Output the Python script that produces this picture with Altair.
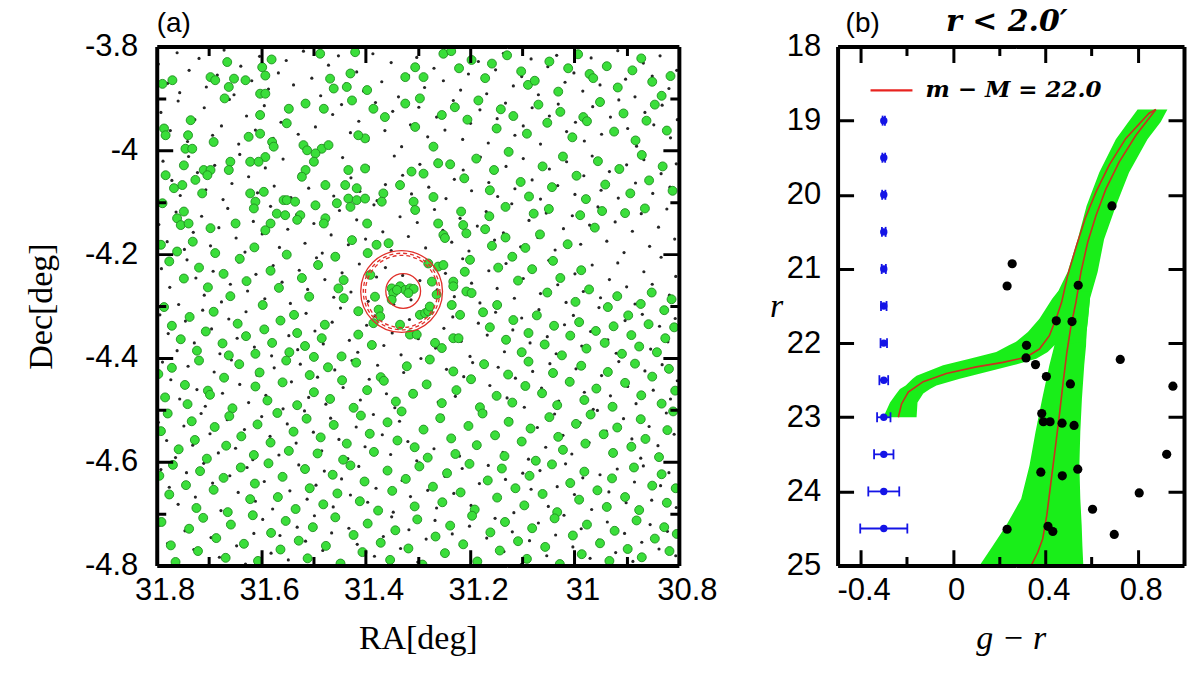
import altair as alt
import pandas as pd

# ======================= Panel (a): sky positions (RA, Dec in deg) =======================
green_north_west = [
    (31.789, -3.872), (31.770, -3.865), (31.786, -3.958), (31.783, -3.971), (31.735, -3.942),
    (31.740, -3.971), (31.745, -3.997), (31.732, -3.997), (31.691, -3.984), (31.697, -3.859),
    (31.688, -3.865), (31.665, -3.830), (31.662, -3.878), (31.652, -3.862), (31.630, -3.865),
    (31.670, -3.900), (31.598, -3.840), (31.580, -3.825), (31.592, -3.856), (31.602, -3.891),
    (31.592, -3.891), (31.602, -3.932), (31.624, -3.974), (31.602, -3.968), (31.579, -3.984),
    (31.576, -3.993), (31.592, -4.013), (31.621, -4.022), (31.605, -4.022), (31.547, -3.920),
    (31.551, -3.948), (31.515, -3.910), (31.480, -3.920), (31.487, -3.814), (31.468, -3.862),
    (31.461, -3.881), (31.436, -3.878), (31.429, -3.852), (31.426, -3.904), (31.420, -3.811),
    (31.397, -3.884), (31.385, -3.920), (31.363, -3.936), (31.324, -3.910), (31.305, -3.840),
    (31.289, -3.859), (31.324, -3.859), (31.305, -3.955), (31.296, -3.900), (31.254, -3.932),
    (31.251, -3.814), (31.270, -3.993), (31.261, -4.025), (31.289, -4.045), (31.312, -4.041),
    (31.334, -4.067), (31.366, -4.083), (31.401, -4.035), (31.401, -3.977), (31.414, -3.971),
    (31.433, -4.038), (31.417, -4.073), (31.433, -4.093), (31.439, -4.067), (31.477, -4.067),
    (31.484, -3.997), (31.471, -3.990), (31.496, -4.006), (31.499, -4.022), (31.515, -4.038),
    (31.522, -4.051), (31.519, -3.990), (31.512, -4.000), (31.557, -4.096), (31.551, -4.096),
    (31.535, -4.099), (31.570, -4.122), (31.554, -4.125), (31.525, -4.125), (31.531, -4.134),
    (31.496, -4.106), (31.477, -4.131), (31.480, -4.141), (31.455, -4.102), (31.429, -4.109),
    (31.417, -4.096), (31.401, -4.093), (31.397, -4.141), (31.369, -4.099), (31.308, -4.099),
    (31.305, -4.115), (31.270, -4.090), (31.261, -4.141), (31.251, -4.163), (31.783, -4.048),
    (31.748, -4.029), (31.767, -4.073), (31.751, -4.067), (31.726, -4.057), (31.710, -4.038),
    (31.697, -4.038), (31.713, -4.083), (31.703, -4.048), (31.659, -4.022), (31.662, -4.038),
    (31.621, -4.083), (31.611, -4.099), (31.614, -4.112), (31.595, -4.080), (31.582, -4.141),
    (31.649, -4.141), (31.697, -4.150), (31.748, -4.118), (31.761, -4.131), (31.754, -4.144),
    (31.739, -4.141), (31.789, -4.102), (31.592, -4.154),
]
green_centre = [
    (31.426, -4.173), (31.379, -4.182), (31.356, -4.179), (31.396, -4.198), (31.458, -4.205),
    (31.248, -4.169), (31.213, -4.144), (31.207, -4.160), (31.200, -4.211), (31.210, -4.234),
    (31.261, -4.224), (31.251, -4.221), (31.280, -4.218), (31.391, -4.240), (31.442, -4.250),
    (31.452, -4.266), (31.442, -4.285), (31.382, -4.282), (31.350, -4.266), (31.347, -4.275),
    (31.334, -4.262), (31.324, -4.269), (31.315, -4.266), (31.308, -4.267), (31.350, -4.288),
    (31.340, -4.269), (31.318, -4.275), (31.375, -4.307), (31.372, -4.320), (31.385, -4.333),
    (31.414, -4.310), (31.414, -4.355), (31.334, -4.336), (31.315, -4.355), (31.302, -4.355),
    (31.296, -4.317), (31.286, -4.314), (31.280, -4.310), (31.273, -4.253), (31.264, -4.278),
    (31.277, -4.301), (31.232, -4.253), (31.232, -4.262), (31.235, -4.298), (31.207, -4.272),
    (31.197, -4.275), (31.219, -4.317), (31.232, -4.362), (31.222, -4.362), (31.254, -4.381),
    (31.267, -4.371), (31.446, -4.397), (31.388, -4.375),
]
green_north_east = [
    (31.236, -3.809), (31.221, -3.842), (31.197, -3.826), (31.171, -3.861), (31.158, -3.833),
    (31.129, -3.817), (31.102, -3.848), (31.089, -3.874), (31.076, -3.866), (31.048, -3.829),
    (31.031, -3.887), (31.012, -3.842), (30.993, -3.815), (30.971, -3.853), (30.964, -3.861),
    (30.938, -3.838), (30.917, -3.879), (30.889, -3.846), (30.872, -3.823), (30.851, -3.868),
    (30.833, -3.895), (30.816, -3.857), (31.229, -3.917), (31.205, -3.941), (31.184, -3.904),
    (31.149, -3.958), (31.141, -3.921), (31.117, -3.934), (31.091, -3.968), (31.069, -3.912),
    (31.052, -3.947), (31.027, -3.926), (31.004, -3.975), (30.983, -3.936), (30.976, -3.944),
    (30.951, -3.907), (30.924, -3.964), (30.906, -3.929), (30.883, -3.981), (30.862, -3.943),
    (30.846, -3.912), (30.823, -3.962), (31.238, -4.027), (31.211, -4.054), (31.188, -4.016),
    (31.162, -4.077), (31.154, -4.038), (31.126, -4.003), (31.103, -4.061), (31.087, -4.089),
    (31.061, -4.031), (31.043, -4.071), (31.022, -4.012), (30.996, -4.049), (30.978, -4.094),
    (30.955, -4.021), (30.941, -4.066), (30.914, -4.036), (30.893, -4.083), (30.871, -4.009),
    (30.857, -4.058), (30.831, -4.031), (30.812, -4.078), (31.217, -4.118), (31.163, -4.127),
    (31.132, -4.109), (31.078, -4.122), (31.049, -4.113), (30.989, -4.125), (30.947, -4.117),
    (30.903, -4.121), (30.865, -4.112),
]
green_east = [
    (31.171, -4.152), (31.158, -4.184), (31.146, -4.226), (31.132, -4.168), (31.119, -4.205),
    (31.108, -4.251), (31.094, -4.188), (31.081, -4.229), (31.066, -4.162), (31.052, -4.274),
    (31.041, -4.213), (31.027, -4.246), (31.013, -4.181), (30.998, -4.292), (30.987, -4.231),
    (30.972, -4.268), (30.961, -4.149), (30.936, -4.302), (30.918, -4.281), (30.897, -4.318),
    (30.873, -4.296), (30.852, -4.274), (30.828, -4.308), (30.814, -4.287), (31.175, -4.312),
    (31.162, -4.341), (31.148, -4.298), (31.131, -4.365), (31.117, -4.327), (31.101, -4.389),
    (31.088, -4.352), (31.072, -4.318), (31.057, -4.374), (31.039, -4.338), (31.024, -4.395),
    (31.008, -4.357), (30.991, -4.331), (30.977, -4.382), (30.959, -4.348), (30.942, -4.371),
    (30.925, -4.339), (30.909, -4.392), (30.891, -4.356), (30.876, -4.378), (30.858, -4.335),
    (30.842, -4.389), (30.826, -4.362), (30.809, -4.341),
]
green_west = [
    (31.792, -4.182), (31.776, -4.214), (31.761, -4.195), (31.748, -4.247), (31.731, -4.176),
    (31.719, -4.226), (31.702, -4.264), (31.688, -4.198), (31.672, -4.238), (31.659, -4.281),
    (31.641, -4.209), (31.628, -4.252), (31.613, -4.187), (31.597, -4.298), (31.582, -4.232),
    (31.566, -4.265), (31.551, -4.201), (31.537, -4.317), (31.522, -4.246), (31.508, -4.282),
    (31.491, -4.221), (31.478, -4.336), (31.786, -4.302), (31.771, -4.338), (31.754, -4.364),
    (31.737, -4.321), (31.723, -4.386), (31.706, -4.349), (31.691, -4.311), (31.674, -4.372),
    (31.662, -4.395), (31.645, -4.334), (31.629, -4.358), (31.611, -4.392), (31.594, -4.345),
    (31.579, -4.371), (31.563, -4.328), (31.546, -4.389), (31.531, -4.352), (31.516, -4.377),
    (31.499, -4.398), (31.484, -4.362),
]
green_south = [
    (31.797, -4.431), (31.784, -4.476), (31.771, -4.419), (31.746, -4.452), (31.741, -4.489),
    (31.719, -4.405), (31.702, -4.463), (31.698, -4.471), (31.671, -4.438), (31.655, -4.497),
    (31.642, -4.412), (31.611, -4.455), (31.603, -4.428), (31.588, -4.482), (31.559, -4.447),
    (31.552, -4.405), (31.531, -4.491), (31.507, -4.433), (31.499, -4.466), (31.472, -4.418),
    (31.468, -4.479), (31.445, -4.443), (31.423, -4.496), (31.418, -4.409), (31.397, -4.462),
    (31.371, -4.437), (31.365, -4.444), (31.342, -4.484), (31.321, -4.416), (31.309, -4.469),
    (31.283, -4.451), (31.277, -4.403), (31.254, -4.487), (31.232, -4.426), (31.226, -4.462),
    (31.198, -4.441), (31.181, -4.495), (31.173, -4.412), (31.149, -4.473), (31.127, -4.432),
    (31.119, -4.486), (31.094, -4.454), (31.088, -4.407), (31.062, -4.468), (31.041, -4.429),
    (31.033, -4.491), (31.009, -4.446), (30.987, -4.415), (30.981, -4.481), (30.958, -4.459),
    (30.936, -4.427), (30.927, -4.494), (30.903, -4.448), (30.884, -4.411), (30.872, -4.472),
    (30.851, -4.436), (30.833, -4.488), (30.819, -4.421), (30.807, -4.463),
    (31.792, -4.541), (31.779, -4.507), (31.758, -4.576), (31.733, -4.522), (31.727, -4.558),
    (31.704, -4.594), (31.689, -4.533), (31.667, -4.569), (31.661, -4.512), (31.638, -4.551),
    (31.614, -4.587), (31.607, -4.528), (31.582, -4.563), (31.569, -4.506), (31.547, -4.579),
    (31.538, -4.542), (31.513, -4.517), (31.492, -4.584), (31.486, -4.553), (31.461, -4.529),
    (31.443, -4.596), (31.436, -4.565), (31.409, -4.511), (31.392, -4.546), (31.384, -4.581),
    (31.358, -4.524), (31.339, -4.559), (31.331, -4.503), (31.306, -4.572), (31.289, -4.538),
    (31.281, -4.592), (31.257, -4.516), (31.236, -4.555), (31.228, -4.585), (31.203, -4.531),
    (31.187, -4.568), (31.176, -4.507), (31.152, -4.549), (31.134, -4.589), (31.126, -4.523),
    (31.101, -4.561), (31.084, -4.536), (31.074, -4.598), (31.048, -4.514), (31.031, -4.552),
    (31.022, -4.577), (30.997, -4.527), (30.979, -4.565), (30.969, -4.509), (30.944, -4.547),
    (30.926, -4.583), (30.918, -4.534), (30.891, -4.571), (30.873, -4.518), (30.864, -4.556),
    (30.838, -4.591), (30.822, -4.539), (30.811, -4.503),
    (31.795, -4.627), (31.776, -4.663), (31.769, -4.606), (31.744, -4.645), (31.724, -4.689),
    (31.717, -4.618), (31.691, -4.654), (31.672, -4.631), (31.664, -4.697), (31.639, -4.611),
    (31.621, -4.672), (31.612, -4.642), (31.586, -4.603), (31.568, -4.668), (31.559, -4.629),
    (31.534, -4.691), (31.516, -4.614), (31.507, -4.651), (31.481, -4.682), (31.463, -4.625),
    (31.454, -4.661), (31.429, -4.607), (31.411, -4.676), (31.402, -4.638), (31.376, -4.694),
    (31.358, -4.617), (31.349, -4.656), (31.323, -4.633), (31.306, -4.686), (31.297, -4.609),
    (31.271, -4.648), (31.253, -4.678), (31.244, -4.622), (31.218, -4.659), (31.201, -4.604),
    (31.191, -4.692), (31.166, -4.636), (31.148, -4.669), (31.139, -4.613), (31.113, -4.651),
    (31.096, -4.684), (31.086, -4.627), (31.061, -4.662), (31.043, -4.605), (31.033, -4.697),
    (31.008, -4.641), (30.991, -4.673), (30.981, -4.619), (30.956, -4.655), (30.938, -4.687),
    (30.928, -4.632), (30.903, -4.668), (30.886, -4.611), (30.876, -4.693), (30.851, -4.646),
    (30.833, -4.624), (30.823, -4.679), (30.806, -4.651),
    (31.791, -4.716), (31.773, -4.761), (31.764, -4.793), (31.738, -4.729), (31.721, -4.772),
    (31.711, -4.708), (31.686, -4.747), (31.668, -4.785), (31.658, -4.721), (31.633, -4.758),
    (31.616, -4.703), (31.606, -4.791), (31.581, -4.737), (31.563, -4.769), (31.553, -4.714),
    (31.528, -4.752), (31.511, -4.786), (31.501, -4.726), (31.476, -4.762), (31.458, -4.707),
    (31.448, -4.796), (31.423, -4.741), (31.406, -4.774), (31.396, -4.719), (31.371, -4.756),
    (31.353, -4.789), (31.343, -4.732), (31.318, -4.767), (31.301, -4.711), (31.291, -4.798),
    (31.266, -4.744), (31.248, -4.776), (31.238, -4.723), (31.213, -4.759), (31.196, -4.704),
    (31.186, -4.792), (31.161, -4.736), (31.143, -4.771), (31.133, -4.716), (31.108, -4.753),
    (31.091, -4.787), (31.081, -4.728), (31.056, -4.764), (31.038, -4.709), (31.028, -4.797),
    (31.003, -4.742), (30.986, -4.778), (30.976, -4.721), (30.951, -4.757), (30.933, -4.791),
    (30.923, -4.733), (30.898, -4.768), (30.881, -4.713), (30.871, -4.784), (30.846, -4.748),
    (30.828, -4.726), (30.818, -4.772), (30.804, -4.739),
]

black_band_1 = [
    (31.797, -3.834), (31.779, -3.871), (31.761, -3.812), (31.756, -3.889), (31.738, -3.846),
    (31.719, -3.823), (31.705, -3.878), (31.684, -3.855), (31.671, -3.807), (31.652, -3.893),
    (31.639, -3.838), (31.618, -3.866), (31.603, -3.819), (31.586, -3.882), (31.567, -3.851),
    (31.552, -3.827), (31.538, -3.874), (31.519, -3.809), (31.503, -3.861), (31.486, -3.895),
    (31.471, -3.836), (31.452, -3.818), (31.438, -3.872), (31.417, -3.849), (31.404, -3.886),
    (31.386, -3.814), (31.369, -3.868), (31.351, -3.831), (31.337, -3.897), (31.318, -3.856),
    (31.302, -3.821), (31.287, -3.879), (31.269, -3.842), (31.251, -3.866), (31.236, -3.811),
    (31.218, -3.884), (31.203, -3.853), (31.184, -3.829), (31.168, -3.891), (31.151, -3.845),
    (31.136, -3.813), (31.117, -3.876), (31.101, -3.858), (31.083, -3.824), (31.069, -3.893),
    (31.051, -3.839), (31.034, -3.817), (31.018, -3.869), (31.001, -3.851), (30.984, -3.886),
    (30.968, -3.822), (30.951, -3.874), (30.933, -3.841), (30.917, -3.808), (30.902, -3.863),
    (30.884, -3.897), (30.868, -3.832), (30.851, -3.857), (30.836, -3.818), (30.819, -3.881),
    (30.804, -3.846),
]
black_band_2 = [
    (31.792, -3.927), (31.774, -3.962), (31.759, -3.905), (31.741, -3.983), (31.727, -3.941),
    (31.709, -3.918), (31.693, -3.971), (31.676, -3.953), (31.661, -3.902), (31.643, -3.988),
    (31.628, -3.934), (31.611, -3.961), (31.594, -3.914), (31.577, -3.977), (31.562, -3.946),
    (31.544, -3.923), (31.529, -3.969), (31.512, -3.906), (31.496, -3.955), (31.478, -3.991),
    (31.463, -3.931), (31.446, -3.912), (31.429, -3.966), (31.413, -3.944), (31.396, -3.981),
    (31.381, -3.908), (31.363, -3.962), (31.348, -3.925), (31.331, -3.993), (31.314, -3.951),
    (31.298, -3.917), (31.281, -3.974), (31.264, -3.936), (31.248, -3.961), (31.232, -3.904),
    (31.214, -3.979), (31.199, -3.948), (31.181, -3.922), (31.165, -3.986), (31.148, -3.939),
    (31.132, -3.909), (31.114, -3.971), (31.098, -3.953), (31.081, -3.918), (31.065, -3.988),
    (31.048, -3.934), (31.031, -3.911), (31.015, -3.964), (30.998, -3.946), (30.981, -3.982),
    (30.965, -3.916), (30.948, -3.969), (30.931, -3.936), (30.915, -3.903), (30.898, -3.958),
    (30.881, -3.992), (30.865, -3.927), (30.848, -3.951), (30.832, -3.913), (30.816, -3.976),
    (30.803, -3.941),
]
black_band_3 = [
    (31.788, -4.021), (31.771, -4.058), (31.755, -4.087), (31.739, -4.012), (31.722, -4.043),
    (31.706, -4.076), (31.689, -4.029), (31.673, -4.095), (31.656, -4.064), (31.641, -4.008),
    (31.624, -4.051), (31.607, -4.082), (31.592, -4.034), (31.575, -4.069), (31.558, -4.017),
    (31.543, -4.091), (31.526, -4.046), (31.509, -4.073), (31.494, -4.024), (31.477, -4.061),
    (31.461, -4.088), (31.444, -4.014), (31.428, -4.053), (31.411, -4.079), (31.395, -4.032),
    (31.378, -4.097), (31.362, -4.066), (31.345, -4.011), (31.329, -4.048), (31.312, -4.084),
    (31.296, -4.027), (31.279, -4.071), (31.263, -4.019), (31.246, -4.093), (31.230, -4.056),
    (31.213, -4.038), (31.197, -4.078), (31.180, -4.013), (31.164, -4.062), (31.147, -4.089),
    (31.131, -4.031), (31.114, -4.074), (31.098, -4.016), (31.081, -4.057), (31.065, -4.094),
    (31.048, -4.036), (31.032, -4.068), (31.015, -4.022), (30.999, -4.085), (30.982, -4.049),
    (30.966, -4.011), (30.949, -4.077), (30.933, -4.041), (30.916, -4.092), (30.900, -4.028),
    (30.883, -4.063), (30.867, -4.018), (30.850, -4.083), (30.834, -4.045), (30.817, -4.071),
    (30.805, -4.026),
]
black_band_4 = [
    (31.796, -4.143), (31.780, -4.176), (31.763, -4.119), (31.747, -4.191), (31.730, -4.158),
    (31.714, -4.127), (31.697, -4.184), (31.681, -4.149), (31.664, -4.112), (31.648, -4.169),
    (31.631, -4.196), (31.615, -4.137), (31.598, -4.161), (31.582, -4.108), (31.565, -4.187),
    (31.549, -4.152), (31.532, -4.124), (31.516, -4.179), (31.499, -4.141), (31.483, -4.198),
    (31.466, -4.163), (31.450, -4.116), (31.433, -4.182), (31.417, -4.134), (31.400, -4.171),
    (31.384, -4.105), (31.367, -4.157), (31.351, -4.193), (31.334, -4.128), (31.318, -4.166),
    (31.301, -4.139), (31.285, -4.188), (31.268, -4.114), (31.252, -4.154), (31.235, -4.177),
    (31.219, -4.131), (31.202, -4.194), (31.186, -4.146), (31.169, -4.118), (31.153, -4.173),
    (31.136, -4.159), (31.120, -4.103), (31.103, -4.186), (31.087, -4.135), (31.070, -4.168),
    (31.054, -4.121), (31.037, -4.192), (31.021, -4.151), (31.004, -4.126), (30.988, -4.181),
    (30.971, -4.144), (30.955, -4.109), (30.938, -4.175), (30.922, -4.138), (30.905, -4.197),
    (30.889, -4.156), (30.872, -4.122), (30.856, -4.185), (30.839, -4.148), (30.823, -4.113),
    (30.808, -4.171),
]
black_band_5 = [
    (31.791, -4.228), (31.775, -4.264), (31.758, -4.297), (31.742, -4.211), (31.725, -4.246),
    (31.709, -4.279), (31.692, -4.233), (31.676, -4.292), (31.659, -4.258), (31.643, -4.215),
    (31.626, -4.271), (31.610, -4.239), (31.593, -4.286), (31.577, -4.222), (31.560, -4.254),
    (31.544, -4.295), (31.527, -4.231), (31.511, -4.268), (31.494, -4.207), (31.478, -4.249),
    (31.461, -4.283), (31.445, -4.236), (31.428, -4.273), (31.412, -4.219), (31.395, -4.291),
    (31.379, -4.244), (31.362, -4.226), (31.346, -4.297), (31.329, -4.241), (31.313, -4.288),
    (31.296, -4.251), (31.280, -4.213), (31.263, -4.269), (31.247, -4.237), (31.230, -4.282),
    (31.214, -4.209), (31.197, -4.256), (31.181, -4.294), (31.164, -4.232), (31.148, -4.266),
    (31.131, -4.218), (31.115, -4.285), (31.098, -4.247), (31.082, -4.229), (31.065, -4.276),
    (31.049, -4.212), (31.032, -4.259), (31.016, -4.293), (30.999, -4.238), (30.983, -4.272),
    (30.966, -4.221), (30.950, -4.284), (30.933, -4.249), (30.917, -4.217), (30.900, -4.263),
    (30.884, -4.296), (30.867, -4.234), (30.851, -4.258), (30.834, -4.206), (30.818, -4.279),
    (30.806, -4.243),
]
black_band_6 = [
    (31.794, -4.317), (31.778, -4.353), (31.761, -4.386), (31.745, -4.329), (31.728, -4.371),
    (31.712, -4.308), (31.695, -4.344), (31.679, -4.392), (31.662, -4.325), (31.646, -4.362),
    (31.629, -4.311), (31.613, -4.379), (31.596, -4.341), (31.580, -4.396), (31.563, -4.322),
    (31.547, -4.357), (31.530, -4.384), (31.514, -4.314), (31.497, -4.348), (31.481, -4.373),
    (31.464, -4.331), (31.448, -4.304), (31.431, -4.366), (31.415, -4.389), (31.398, -4.337),
    (31.382, -4.319), (31.365, -4.376), (31.349, -4.352), (31.332, -4.394), (31.316, -4.326),
    (31.299, -4.363), (31.283, -4.309), (31.266, -4.381), (31.250, -4.343), (31.233, -4.321),
    (31.217, -4.368), (31.200, -4.397), (31.184, -4.333), (31.167, -4.356), (31.151, -4.312),
    (31.134, -4.388), (31.118, -4.346), (31.101, -4.323), (31.085, -4.371), (31.068, -4.307),
    (31.052, -4.359), (31.035, -4.392), (31.019, -4.336), (31.002, -4.318), (30.986, -4.377),
    (30.969, -4.349), (30.953, -4.303), (30.936, -4.365), (30.920, -4.391), (30.903, -4.328),
    (30.887, -4.354), (30.870, -4.316), (30.854, -4.383), (30.837, -4.339), (30.821, -4.369),
    (30.807, -4.324),
]
black_band_7 = [
    (31.789, -4.408), (31.773, -4.442), (31.756, -4.479), (31.740, -4.416), (31.723, -4.461),
    (31.707, -4.493), (31.690, -4.427), (31.674, -4.468), (31.657, -4.404), (31.641, -4.451),
    (31.624, -4.486), (31.608, -4.433), (31.591, -4.472), (31.575, -4.419), (31.558, -4.498),
    (31.542, -4.446), (31.525, -4.412), (31.509, -4.476), (31.492, -4.437), (31.476, -4.489),
    (31.459, -4.423), (31.443, -4.457), (31.426, -4.405), (31.410, -4.481), (31.393, -4.441),
    (31.377, -4.414), (31.360, -4.469), (31.344, -4.496), (31.327, -4.428), (31.311, -4.463),
    (31.294, -4.401), (31.278, -4.448), (31.261, -4.485), (31.245, -4.422), (31.228, -4.474),
    (31.212, -4.436), (31.195, -4.409), (31.179, -4.491), (31.162, -4.453), (31.146, -4.418),
    (31.129, -4.477), (31.113, -4.439), (31.096, -4.495), (31.080, -4.426), (31.063, -4.458),
    (31.047, -4.411), (31.030, -4.483), (31.014, -4.447), (30.997, -4.421), (30.981, -4.466),
    (30.964, -4.499), (30.948, -4.434), (30.931, -4.473), (30.915, -4.407), (30.898, -4.455),
    (30.882, -4.488), (30.865, -4.425), (30.849, -4.462), (30.832, -4.413), (30.816, -4.479),
    (30.803, -4.444),
]
black_band_8 = [
    (31.797, -4.524), (31.781, -4.559), (31.764, -4.592), (31.748, -4.531), (31.731, -4.568),
    (31.715, -4.507), (31.698, -4.546), (31.682, -4.583), (31.665, -4.519), (31.649, -4.574),
    (31.632, -4.538), (31.616, -4.596), (31.599, -4.513), (31.583, -4.551), (31.566, -4.587),
    (31.550, -4.527), (31.533, -4.564), (31.517, -4.502), (31.500, -4.543), (31.484, -4.579),
    (31.467, -4.516), (31.451, -4.557), (31.434, -4.594), (31.418, -4.533), (31.401, -4.571),
    (31.385, -4.509), (31.368, -4.548), (31.352, -4.586), (31.335, -4.522), (31.319, -4.561),
    (31.302, -4.598), (31.286, -4.536), (31.269, -4.575), (31.253, -4.511), (31.236, -4.553),
    (31.220, -4.589), (31.203, -4.528), (31.187, -4.566), (31.170, -4.504), (31.154, -4.545),
    (31.137, -4.582), (31.121, -4.519), (31.104, -4.558), (31.088, -4.595), (31.071, -4.534),
    (31.055, -4.572), (31.038, -4.508), (31.022, -4.549), (31.005, -4.585), (30.989, -4.525),
    (30.972, -4.563), (30.956, -4.501), (30.939, -4.541), (30.923, -4.578), (30.906, -4.517),
    (30.890, -4.556), (30.873, -4.593), (30.857, -4.532), (30.840, -4.569), (30.824, -4.506),
    (30.809, -4.547),
]
black_band_9 = [
    (31.792, -4.615), (31.776, -4.649), (31.759, -4.682), (31.743, -4.621), (31.726, -4.668),
    (31.710, -4.603), (31.693, -4.641), (31.677, -4.694), (31.660, -4.627), (31.644, -4.659),
    (31.627, -4.611), (31.611, -4.676), (31.594, -4.638), (31.578, -4.691), (31.561, -4.624),
    (31.545, -4.656), (31.528, -4.606), (31.512, -4.672), (31.495, -4.645), (31.479, -4.618),
    (31.462, -4.687), (31.446, -4.633), (31.429, -4.664), (31.413, -4.609), (31.396, -4.678),
    (31.380, -4.651), (31.363, -4.619), (31.347, -4.697), (31.330, -4.636), (31.314, -4.667),
    (31.297, -4.602), (31.281, -4.655), (31.264, -4.689), (31.248, -4.628), (31.231, -4.661),
    (31.215, -4.613), (31.198, -4.684), (31.182, -4.642), (31.165, -4.607), (31.149, -4.671),
    (31.132, -4.634), (31.116, -4.698), (31.099, -4.622), (31.083, -4.653), (31.066, -4.617),
    (31.050, -4.686), (31.033, -4.648), (31.017, -4.604), (31.000, -4.663), (30.984, -4.631),
    (30.967, -4.692), (30.951, -4.625), (30.934, -4.658), (30.918, -4.614), (30.901, -4.679),
    (30.885, -4.639), (30.868, -4.608), (30.852, -4.674), (30.835, -4.646), (30.819, -4.621),
    (30.805, -4.688),
]
black_band_10 = [
    (31.795, -4.722), (31.779, -4.757), (31.762, -4.791), (31.746, -4.733), (31.729, -4.769),
    (31.713, -4.708), (31.696, -4.746), (31.680, -4.784), (31.663, -4.719), (31.647, -4.762),
    (31.630, -4.797), (31.614, -4.738), (31.597, -4.711), (31.581, -4.776), (31.564, -4.742),
    (31.548, -4.789), (31.531, -4.726), (31.515, -4.753), (31.498, -4.704), (31.482, -4.771),
    (31.465, -4.737), (31.449, -4.794), (31.432, -4.728), (31.416, -4.759), (31.399, -4.715),
    (31.383, -4.782), (31.366, -4.744), (31.350, -4.706), (31.333, -4.767), (31.317, -4.731),
    (31.300, -4.793), (31.284, -4.749), (31.267, -4.713), (31.251, -4.778), (31.234, -4.739),
    (31.218, -4.761), (31.201, -4.724), (31.185, -4.787), (31.168, -4.747), (31.152, -4.709),
    (31.135, -4.773), (31.119, -4.735), (31.102, -4.798), (31.086, -4.752), (31.069, -4.718),
    (31.053, -4.781), (31.036, -4.741), (31.020, -4.703), (31.003, -4.764), (30.987, -4.729),
    (30.970, -4.786), (30.954, -4.751), (30.937, -4.716), (30.921, -4.775), (30.904, -4.738),
    (30.888, -4.792), (30.871, -4.755), (30.855, -4.721), (30.838, -4.768), (30.822, -4.734),
    (30.806, -4.781),
]

circle_ra = [31.328, 31.331, 31.331, 31.331]
circle_dec = [-4.271, -4.272, -4.272, -4.272]
circle_radius_arcmin = [2.0, 4.15, 4.4, 4.7]
circle_dashed = [False, True, True, False]

ra_major = [31.8, 31.6, 31.4, 31.2, 31.0, 30.8]
ra_minor = [31.7, 31.5, 31.3, 31.1, 30.9]
dec_major = [-3.8, -4.0, -4.2, -4.4, -4.6, -4.8]
dec_minor = [-3.9, -4.1, -4.3, -4.5, -4.7]

# ======================= Panel (b): colour-magnitude diagram =======================
star_gr = [0.688, 0.256, 0.234, 0.542, 0.447, 0.515, 0.318, 0.316, 0.357, 0.724,
           0.404, 0.508, 0.952, 0.384, 0.391, 0.420, 0.472, 0.524, 0.925, 0.540,
           0.380, 0.473, 0.806, 0.604, 0.234, 0.411, 0.432, 0.698]
star_r = [20.15, 20.93, 21.23, 21.22, 21.70, 21.71, 22.03, 22.20, 22.29, 22.22,
          22.45, 22.55, 22.58, 22.95, 23.06, 23.06, 23.08, 23.11, 23.50, 23.70,
          23.74, 23.79, 24.02, 24.24, 24.51, 24.47, 24.54, 24.58]

err_gr = [-0.3, -0.3, -0.3, -0.3, -0.3, -0.3, -0.3, -0.3, -0.3, -0.3, -0.3, -0.3]
err_r = [19.0, 19.5, 20.0, 20.5, 21.0, 21.5, 22.0, 22.5, 23.0, 23.5, 24.0, 24.5]
err_size = [0.005, 0.006, 0.007, 0.008, 0.009, 0.012, 0.014, 0.019, 0.029, 0.042, 0.067, 0.102]

rgb_gr = [0.878, 0.791, 0.719, 0.662, 0.619, 0.583, 0.554, 0.532, 0.511, 0.493,
          0.477, 0.460, 0.442, 0.424, 0.406, 0.388, 0.367, 0.338]
rgb_r = [18.85, 19.20, 19.56, 19.92, 20.28, 20.64, 21.04, 21.45, 21.76, 22.12,
         22.52, 22.98, 23.43, 23.87, 24.32, 24.64, 24.82, 25.0]
hb_gr = [0.878, 0.849, 0.748, 0.676, 0.619, 0.572, 0.535, 0.496, 0.470, 0.446,
         0.417, 0.374, 0.316, 0.216, 0.101, -0.029, -0.129, -0.194, -0.223, -0.237]
hb_r = [18.85, 18.90, 19.24, 19.60, 19.96, 20.32, 20.68, 21.09, 21.45, 21.67,
        21.90, 22.08, 22.19, 22.26, 22.32, 22.41, 22.52, 22.66, 22.82, 23.0]

bandA_r = [18.85, 19.02, 19.25, 19.70, 20.15, 20.60, 21.04, 21.40, 21.85, 22.03,
           22.30, 22.75, 23.20, 23.65, 24.10, 24.46, 24.73, 25.0]
bandA_left = [0.799, 0.759, 0.705, 0.633, 0.578, 0.540, 0.496, 0.440, 0.440, 0.439,
              0.417, 0.386, 0.357, 0.331, 0.295, 0.230, 0.173, 0.115]
bandA_right = [0.928, 0.899, 0.842, 0.762, 0.705, 0.654, 0.626, 0.593, 0.578, 0.576,
               0.568, 0.558, 0.551, 0.547, 0.551, 0.557, 0.560, 0.564]
bandB_r = [21.30, 21.40, 21.67, 21.85, 21.98, 22.03, 22.12, 22.21, 22.30, 22.39,
           22.44, 22.48, 22.57, 22.62, 22.68, 22.80, 23.0]
bandB_left = [0.455, 0.430, 0.374, 0.324, 0.273, 0.242, 0.187, 0.072, -0.043, -0.117,
              -0.158, -0.175, -0.205, -0.230, -0.245, -0.273, -0.302]
bandB_right = [0.590, 0.593, 0.585, 0.578, 0.575, 0.439, 0.410, 0.360, 0.259, 0.144,
               0.080, 0.029, -0.072, -0.100, -0.129, -0.154, -0.158]

gr_major = [-0.4, 0.0, 0.4, 0.8]
gr_minor = [-0.2, 0.2, 0.6]
r_labels = [18, 19, 20, 21, 22, 23, 24, 25]
r_half = [18.5, 19.5, 20.5, 21.5, 22.5, 23.5, 24.5]

# ======================= styling =======================
WA, HA = 523, 520
WB, HB = 347, 520
RA_DOM = [30.8, 31.8]
DEC_DOM = [-4.8, -3.8]
GR_DOM = [-0.5, 1.0]
R_DOM = [18, 25]
SANS = "Liberation Sans"
SERIF = "Liberation Serif"
MATH = "DejaVu Serif"
LABEL_SIZE = 31
TITLE_SIZE = 34
MAJ, MIN = 16, 9
FRAME_W, TICK_W = 4.0, 3.0
GREEN_BAND = "#19ee19"
RED = "#c8321e"
BLUE = "#1414e6"


def in_list(vals):
    return "indexof([" + ",".join(repr(float(v)) for v in vals) + "], datum.value) >= 0"


def frame_axis(title, values, edges, minor, blank, span, pad, tpad, italic=False,
               offset=0, angle=None):
    """Axis whose grid lines draw the frame (edges) and the inward tick marks (others)."""
    base = "replace(toString(datum.value), '\u2212', '-')"
    label_expr = "(" + in_list(blank) + ") ? '' : " + base if blank else base
    dash_cond = [{"test": in_list(edges), "value": [1, 0]}]
    if minor:
        dash_cond.append({"test": in_list(minor), "value": [MIN, span - 2 * MIN, MIN, 0]})
    kw = dict(
        values=values, title=title, ticks=False, domain=False, grid=True, zindex=1,
        gridColor="black", gridOpacity=1,
        gridDash={"condition": dash_cond, "value": [MAJ, span - 2 * MAJ, MAJ, 0]},
        gridWidth={"condition": {"test": in_list(edges), "value": FRAME_W}, "value": TICK_W},
        labelExpr=label_expr, labelFont=SANS, labelFontSize=LABEL_SIZE, labelPadding=pad,
        labelFlush=False, labelOverlap=False, labelColor="black", labelOffset=offset,
        titleFont=SERIF, titleFontSize=TITLE_SIZE, titleFontWeight="normal",
        titleFontStyle="italic" if italic else "normal", titlePadding=tpad, titleColor="black",
    )
    if angle is not None:
        kw.update(titleAngle=angle, titleBaseline="middle")
    return alt.Axis(**kw)


# ======================= Panel (a) =======================
green_all = (green_north_west + green_centre + green_north_east + green_east
             + green_west + green_south)
black_all = (black_band_1 + black_band_2 + black_band_3 + black_band_4 + black_band_5
             + black_band_6 + black_band_7 + black_band_8 + black_band_9 + black_band_10)
dfa_green = pd.DataFrame(green_all, columns=["ra", "dec"])
dfa_black = pd.DataFrame(black_all, columns=["ra", "dec"])
PX_PER_DEG = WA / (RA_DOM[1] - RA_DOM[0])
dfa_circ = pd.DataFrame({
    "ra": circle_ra, "dec": circle_dec,
    "size": [(2 * r / 60.0 * PX_PER_DEG) ** 2 for r in circle_radius_arcmin],
    "dashed": circle_dashed,
})

xa_scale = alt.Scale(domain=RA_DOM, reverse=True, nice=False, zero=False)
ya_scale = alt.Scale(domain=DEC_DOM, nice=False, zero=False)

xa_axis = frame_axis("RA[deg]", sorted(ra_major + ra_minor, reverse=True), RA_DOM, ra_minor,
                     ra_minor, HA, 10, 16, offset=8)
ya_axis = frame_axis("Dec[deg]", sorted(dec_major + dec_minor, reverse=True), DEC_DOM,
                     dec_minor, dec_minor, WA, 19, 26)

black_a = alt.Chart(dfa_black).mark_circle(size=10, color="#262626", opacity=1, clip=True).encode(
    x=alt.X("ra:Q", scale=xa_scale, axis=xa_axis),
    y=alt.Y("dec:Q", scale=ya_scale, axis=ya_axis),
)
green_a = alt.Chart(dfa_green).mark_point(filled=True, shape="circle", size=80, fill="#3ade3a",
                                          stroke="#208f20", strokeWidth=0.9, opacity=1,
                                          clip=True).encode(
    x=alt.X("ra:Q", scale=xa_scale), y=alt.Y("dec:Q", scale=ya_scale))
circ_solid = alt.Chart(dfa_circ).transform_filter("!datum.dashed").mark_point(
    shape="circle", filled=False, color="#e0302a", strokeWidth=1.3, opacity=1).encode(
    x=alt.X("ra:Q", scale=xa_scale), y=alt.Y("dec:Q", scale=ya_scale),
    size=alt.Size("size:Q", scale=None, legend=None))
circ_dash = alt.Chart(dfa_circ).transform_filter("datum.dashed").mark_point(
    shape="circle", filled=False, color="#e0302a", strokeWidth=1.3, opacity=1,
    strokeDash=[4, 3]).encode(
    x=alt.X("ra:Q", scale=xa_scale), y=alt.Y("dec:Q", scale=ya_scale),
    size=alt.Size("size:Q", scale=None, legend=None))

label_a = alt.Chart(pd.DataFrame({"t": ["(a)"]})).mark_text(
    font=SANS, fontSize=28, align="left", baseline="alphabetic", color="black").encode(
    text="t:N", x=alt.value(0), y=alt.value(-14))

panel_a = alt.layer(black_a, green_a, circ_dash, circ_solid, label_a).properties(
    width=WA, height=HA)

# ======================= Panel (b) =======================
xb_scale = alt.Scale(domain=GR_DOM, nice=False, zero=False)
yb_scale = alt.Scale(domain=R_DOM, reverse=True, nice=False, zero=False)

xb_axis = frame_axis("g − r", sorted(GR_DOM + gr_major + gr_minor), GR_DOM, gr_minor,
                     GR_DOM + gr_minor, HB, 10, 16, italic=True, offset=3)
yb_axis = frame_axis("r", sorted(r_labels + r_half), R_DOM, [], r_half, WB, 17, 10,
                     italic=True, angle=0)

dfA = pd.DataFrame({"r": bandA_r, "l": bandA_left, "h": bandA_right})
dfB = pd.DataFrame({"r": bandB_r, "l": bandB_left, "h": bandB_right})
band_a = alt.Chart(dfA).mark_area(orient="horizontal", color=GREEN_BAND, opacity=1, clip=True).encode(
    y=alt.Y("r:Q", scale=yb_scale, axis=yb_axis),
    x=alt.X("l:Q", scale=xb_scale, axis=xb_axis), x2="h:Q")
band_b = alt.Chart(dfB).mark_area(orient="horizontal", color=GREEN_BAND, opacity=1, clip=True).encode(
    y=alt.Y("r:Q", scale=yb_scale), x=alt.X("l:Q", scale=xb_scale), x2="h:Q")

df_rgb = pd.DataFrame({"gr": rgb_gr, "r": rgb_r, "i": list(range(len(rgb_gr)))})
df_hb = pd.DataFrame({"gr": hb_gr, "r": hb_r, "i": list(range(len(hb_gr)))})
line_rgb = alt.Chart(df_rgb).mark_line(color=RED, strokeWidth=1.6, clip=True).encode(
    x=alt.X("gr:Q", scale=xb_scale), y=alt.Y("r:Q", scale=yb_scale), order="i:Q")
line_hb = alt.Chart(df_hb).mark_line(color=RED, strokeWidth=1.6, clip=True).encode(
    x=alt.X("gr:Q", scale=xb_scale), y=alt.Y("r:Q", scale=yb_scale), order="i:Q")

df_stars = pd.DataFrame({"gr": star_gr, "r": star_r})
stars = alt.Chart(df_stars).mark_circle(size=85, color="black", opacity=1, clip=True).encode(
    x=alt.X("gr:Q", scale=xb_scale), y=alt.Y("r:Q", scale=yb_scale))

df_err = pd.DataFrame({"gr": err_gr, "r": err_r, "e": err_size})
df_err["lo"] = df_err["gr"] - df_err["e"]
df_err["hi"] = df_err["gr"] + df_err["e"]
err_bar = alt.Chart(df_err).mark_rule(color=BLUE, strokeWidth=1.8).encode(
    x=alt.X("lo:Q", scale=xb_scale), x2="hi:Q", y=alt.Y("r:Q", scale=yb_scale))
err_cap_lo = alt.Chart(df_err).mark_tick(color=BLUE, orient="vertical", size=10, thickness=1.8,
                                         opacity=1).encode(
    x=alt.X("lo:Q", scale=xb_scale), y=alt.Y("r:Q", scale=yb_scale))
err_cap_hi = alt.Chart(df_err).mark_tick(color=BLUE, orient="vertical", size=10, thickness=1.8,
                                         opacity=1).encode(
    x=alt.X("hi:Q", scale=xb_scale), y=alt.Y("r:Q", scale=yb_scale))
err_pt = alt.Chart(df_err).mark_circle(size=55, color=BLUE, opacity=1).encode(
    x=alt.X("gr:Q", scale=xb_scale), y=alt.Y("r:Q", scale=yb_scale))

leg_line = alt.Chart(pd.DataFrame({"t": ["m − M = 22.0"]})).mark_rule(
    color="#e8231f", strokeWidth=2.2).encode(
    x=alt.value(33), x2=alt.value(75), y=alt.value(44))
leg_text = alt.Chart(pd.DataFrame({"t": ["m − M = 22.0"]})).mark_text(
    font=MATH, fontSize=23, fontStyle="italic", fontWeight="bold", align="left",
    baseline="middle", color="black").encode(
    text="t:N", x=alt.value(88), y=alt.value(44))
label_b = alt.Chart(pd.DataFrame({"t": ["(b)"]})).mark_text(
    font=SANS, fontSize=28, align="left", baseline="alphabetic", color="black").encode(
    text="t:N", x=alt.value(8), y=alt.value(-14))
title_b = alt.Chart(pd.DataFrame({"t": ["r < 2.0′"]})).mark_text(
    font=MATH, fontSize=30, fontStyle="italic", fontWeight="bold", align="center",
    baseline="alphabetic", color="black").encode(
    text="t:N", x=alt.value(WB / 2 - 4), y=alt.value(-16))

panel_b = alt.layer(
    band_a, band_b, line_rgb, line_hb, stars,
    err_bar, err_cap_lo, err_cap_hi, err_pt,
    leg_line, leg_text, label_b, title_b,
).properties(width=WB, height=HB)

chart = alt.hconcat(panel_a, panel_b, spacing=159, bounds="flush").properties(
    padding={"left": 24, "top": 6, "right": 0, "bottom": 0},
    background="white",
).configure_view(strokeWidth=0).configure_concat(spacing=159)

chart.save("out.html", embed_options={"renderer": "svg", "actions": False})
